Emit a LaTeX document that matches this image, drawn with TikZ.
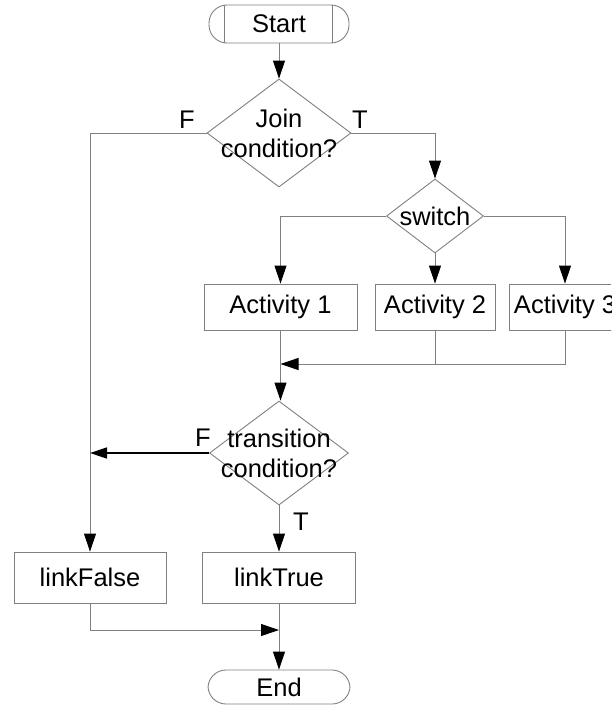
\documentclass[tikz,border=0pt]{standalone}
\usepackage{fontspec}
\setmainfont{Liberation Sans}
\usetikzlibrary{shapes.geometric,arrows.meta}
\begin{document}
\begin{tikzpicture}[x=1pt,y=-1pt,
  txt/.style={font=\fontsize{25.5}{30}\selectfont, inner sep=0pt, align=center},
  line/.style={draw=black!50, line width=0.9pt},
  arrow/.style={line, -{Triangle[length=18pt,width=12pt,color=black]}},
  arrowk/.style={draw=black, line width=1.6pt, -{Triangle[length=17pt,width=11pt]}},
  box/.style={draw=black!50, line width=0.9pt, inner sep=0pt, font=\fontsize{25.5}{30}\selectfont},
  term/.style={box, rounded corners=18pt},
  dia/.style={draw=black!50, line width=0.9pt, shape=diamond, inner sep=0pt}]
\clip (0,0) rectangle (611,707);

% terminals
\node[term, minimum width=140pt, minimum height=38pt] (start) at (279,24) {Start};
\draw[line] ([xshift=16pt]start.north west) -- ([xshift=16pt]start.south west);
\draw[line] ([xshift=-17pt]start.north east) -- ([xshift=-17pt]start.south east);
\node[term, minimum width=142pt, minimum height=34pt] (end) at (279,687) {End};

% decisions
\node[dia, minimum width=144pt, minimum height=108pt] (join) at (279,133) {};
\node[txt] (joinlbl) at (join.center) {Join\\condition?};
\node[dia, minimum width=97pt, minimum height=74pt] (switch) at (435,216) {};
\node[txt] (switchlbl) at (switch.center) {switch};
\node[dia, minimum width=139pt, minimum height=104pt] (trans) at (279,453) {};
\node[txt] (translbl) at (trans.center) {transition\\condition?};

% activities
\node[box, minimum width=153pt, minimum height=46pt] (act1) at (280.5,307) {Activity 1};
\node[box, minimum width=120pt, minimum height=46pt] (act2) at (435,307) {Activity 2};
\node[box, minimum width=112pt, minimum height=46pt] (act3) at (565,307) {Activity 3};
\node[box, minimum width=152pt, minimum height=51pt] (lfalse) at (90,577.5) {linkFalse};
\node[box, minimum width=153pt, minimum height=51pt] (ltrue) at (279,577.5) {linkTrue};

% branch labels
\node[txt] (jf) at (187,120) {F};
\node[txt] (jt) at (360,120) {T};
\node[txt] (tf) at (203,438) {F};
\node[txt] (tt) at (301,522) {T};

% connectors
\draw[arrow] (start.south) -- (join.north);
\draw[arrow] (join.west) -| (lfalse.north);
\draw[arrow] (join.east) -| (switch.north);
\draw[arrow] (switch.west) -| (act1.north);
\draw[arrow] (switch.south) -- (act2.north);
\draw[arrow] (switch.east) -| (act3.north);
\coordinate (m1) at (act1.south |- 0,364);
\draw[arrow] (act3.south) |- (m1);
\draw[line] (act2.south) -- (act2.south |- m1);
\draw[arrow] (act1.south) -- (act1.south |- trans.north);
\draw[arrowk] (trans.west) -- (trans.west -| lfalse.north);
\draw[arrow] (trans.south) -- (ltrue.north);
\draw[arrow] (ltrue.south) -- (end.north);
\coordinate (m2) at (ltrue.south |- 0,630);
\draw[arrow] (lfalse.south) |- (m2);
\end{tikzpicture}
\end{document}
